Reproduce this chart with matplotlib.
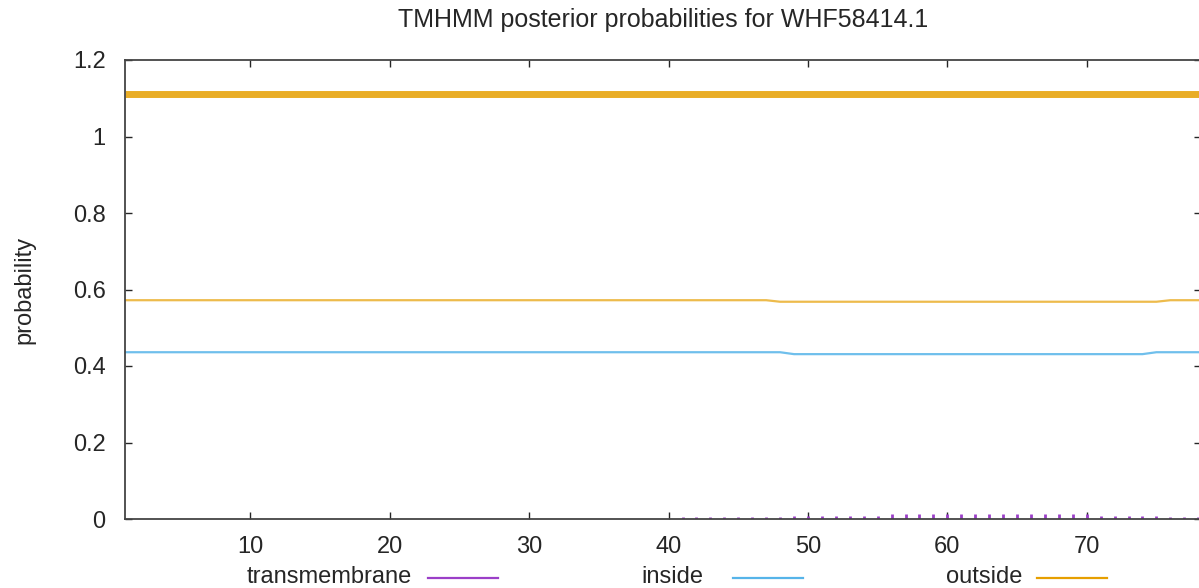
import numpy as np
import matplotlib
matplotlib.use("Agg")
import matplotlib.pyplot as plt

plt.rcParams['font.family'] = ['Liberation Sans', 'DejaVu Sans']

title = "TMHMM posterior probabilities for WHF58414.1"

# residue positions 1..78
positions = list(range(1, 79))

# posterior probabilities
outside = [0.572] * 47 + [0.568] * 28 + [0.572] * 3
inside = [0.436] * 48 + [0.431] * 26 + [0.436] * 4

# transmembrane impulses (residues 41..78)
tm_pos = list(range(41, 79))
tm_prob = [0.004, 0.004, 0.004, 0.004, 0.004, 0.004, 0.004, 0.004,
           0.008, 0.008, 0.008, 0.009, 0.009, 0.009, 0.009,
           0.013, 0.013, 0.013, 0.013, 0.013, 0.013, 0.013, 0.013,
           0.013, 0.013, 0.013, 0.013, 0.013, 0.013, 0.013,
           0.009, 0.009, 0.009, 0.009, 0.009,
           0.004, 0.004, 0.004]

# predicted topology bar (whole sequence outside)
topo_start, topo_end, topo_level = 1, 78.2, 1.11

c_tm = '#9B3FC8'
c_in = '#56B4E9'
c_out = '#E69F00'
c_txt = '#262626'

fig = plt.figure(figsize=(11.99, 5.88), dpi=100)
# right border of the plot falls just outside the picture
ax = fig.add_axes([125 / 1199, 1 - 519 / 588, 1076 / 1199, 459 / 588])

ax.vlines(tm_pos, 0, tm_prob, color=c_tm, lw=2)
ax.plot(positions, inside, color=c_in, lw=1.6, alpha=0.85)
ax.plot(positions, outside, color=c_out, lw=1.6, alpha=0.7)
ax.plot([topo_start, topo_end], [topo_level, topo_level], color=c_out, lw=5,
        alpha=0.85, solid_capstyle='butt')

ax.set_xlim(1, 78.2)
ax.set_ylim(0, 1.2)
ax.set_xticks([10, 20, 30, 40, 50, 60, 70])
ax.set_yticks([0, 0.2, 0.4, 0.6, 0.8, 1.0, 1.2])
ax.set_yticklabels(['0', '0.2', '0.4', '0.6', '0.8', '1', '1.2'])
ax.tick_params(direction='in', top=True, right=True, length=5, width=1,
               labelsize=17, colors=c_txt)
ax.tick_params(axis='y', pad=14)
ax.tick_params(axis='x', pad=12)
for s in ax.spines.values():
    s.set_color('#444444')
    s.set_linewidth(1.3)

ax.set_title(title, fontsize=18, pad=24, color=c_txt)
ax.set_ylabel('probability', fontsize=17, labelpad=27, color=c_txt)

# legend row under the axes: text right edge, line start, line end (pixels)
leg_items = [('transmembrane', c_tm, 412, 428, 498),
             ('inside', c_in, 703, 733, 803),
             ('outside', c_out, 1022, 1037, 1107)]
for name, col, tx, l0, l1 in leg_items:
    fig.text(tx / 1199, 1 - 577 / 588, name, ha='right', va='center',
             fontsize=17, color=c_txt)
    fig.add_artist(plt.Line2D([l0 / 1199, l1 / 1199], [1 - 578 / 588, 1 - 578 / 588],
                              color=col, lw=1.6, transform=fig.transFigure))

plt.savefig('out.png', dpi=100)
